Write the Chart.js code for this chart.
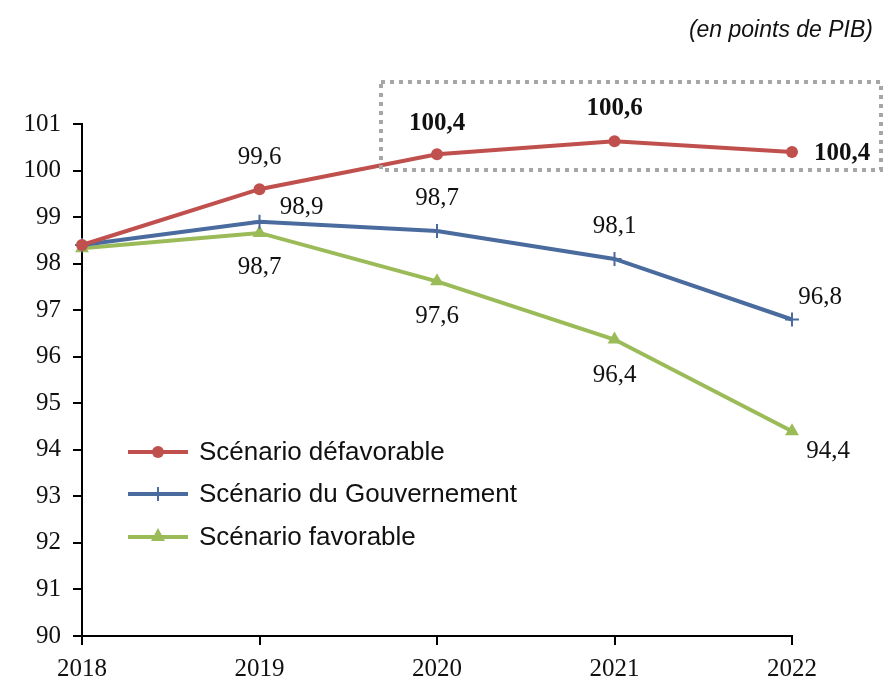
<!DOCTYPE html>
<html>
<head>
<meta charset="utf-8">
<script src="https://cdn.jsdelivr.net/npm/chart.js@4.4.0/dist/chart.umd.min.js"></script>
<style>
    body { margin: 0; background: #fff; }
    #wrap { position: relative; width: 883px; height: 682px; }
    #unit { position: absolute; right: 10px; top: 16px; font: italic 23px "Liberation Sans", Arial, sans-serif; color: #111; }
</style>
</head>
<body>
<div id="wrap">
    <canvas id="myChart" width="883" height="682"></canvas>
    <div id="unit">(en points de PIB)</div>
</div>
<script>
const years = ["2018", "2019", "2020", "2021", "2022"];
const defavorable = [98.4, 99.6, 100.35, 100.63, 100.4];
const gouvernement = [98.4, 98.9, 98.7, 98.1, 96.8];
const favorable = [98.33, 98.66, 97.62, 96.37, 94.4];
// texts shown next to the points (none for 2018)
const labelsDef = ["", "99,6", "100,4", "100,6", "100,4"];
const labelsGouv = ["", "98,9", "98,7", "98,1", "96,8"];
const labelsFav = ["", "98,7", "97,6", "96,4", "94,4"];

const red = "#C0504D";
const blue = "#4A6B9E";
const green = "#9BBB59";

// label offsets relative to the point (dx, dy), bold flag
const labelPos = [
    [null, [0, -32], [0, -31, true], [0, -33, true], [50, 2, true]],
    [null, [42, -14], [0, -33], [0, -33], [28, -22]],
    [null, [0, 35], [0, 35], [0, 36], [36, 20]]
];

const pointLabels = {
    id: "pointLabels",
    afterDatasetsDraw(chart) {
        const c = chart.ctx;
        c.save();
        c.textAlign = "center";
        c.textBaseline = "middle";
        c.fillStyle = "#111";
        chart.data.datasets.forEach(function (ds, i) {
            const meta = chart.getDatasetMeta(i);
            meta.data.forEach(function (pt, j) {
                const txt = ds.valueLabels[j];
                const pos = labelPos[i][j];
                if (!txt || !pos) return;
                c.font = (pos[2] ? "bold " : "") + "25px 'Liberation Serif', serif";
                c.fillText(txt, pt.x + pos[0], pt.y + pos[1]);
            });
        });
        c.restore();
    }
};

const boxAndLegend = {
    id: "boxAndLegend",
    afterDraw(chart) {
        const c = chart.ctx;
        c.save();
        // dotted frame round the unfavourable scenario
        c.strokeStyle = "#A6A6A6";
        c.lineWidth = 4;
        c.setLineDash([4, 5]);
        c.strokeRect(381, 82, 500, 88);
        c.setLineDash([]);
        // legend
        const rows = [452, 494, 537];
        chart.data.datasets.forEach(function (ds, i) {
            const y = rows[i];
            c.strokeStyle = ds.borderColor;
            c.lineWidth = 4;
            c.beginPath();
            c.moveTo(128, y);
            c.lineTo(188, y);
            c.stroke();
            c.fillStyle = ds.borderColor;
            if (ds.pointStyle === "circle") {
                c.beginPath();
                c.arc(158, y, 6, 0, Math.PI * 2);
                c.fill();
            } else if (ds.pointStyle === "cross") {
                c.lineWidth = 2;
                c.beginPath();
                c.moveTo(158, y - 7);
                c.lineTo(158, y + 7);
                c.stroke();
            } else {
                c.beginPath();
                c.moveTo(158, y - 9);
                c.lineTo(165, y + 4);
                c.lineTo(151, y + 4);
                c.closePath();
                c.fill();
            }
            c.fillStyle = "#111";
            c.font = "26px 'Liberation Sans', Arial, sans-serif";
            c.textAlign = "left";
            c.textBaseline = "middle";
            c.fillText(ds.label, 199, y + 1);
        });
        c.restore();
    }
};

const ctx = document.getElementById("myChart").getContext("2d");
const myChart = new Chart(ctx, {
    type: "line",
    data: {
        labels: years,
        datasets: [
            {
                label: "Scénario défavorable",
                data: defavorable,
                valueLabels: labelsDef,
                borderColor: red,
                backgroundColor: red,
                borderWidth: 4,
                pointStyle: "circle",
                pointRadius: 6,
                pointBorderWidth: 0,
            },
            {
                label: "Scénario du Gouvernement",
                data: gouvernement,
                valueLabels: labelsGouv,
                borderColor: blue,
                backgroundColor: blue,
                borderWidth: 4,
                pointStyle: "cross",
                pointRadius: 7,
                pointBorderWidth: 2,
            },
            {
                label: "Scénario favorable",
                data: favorable,
                valueLabels: labelsFav,
                borderColor: green,
                backgroundColor: green,
                borderWidth: 4,
                pointStyle: "triangle",
                pointRadius: 8,
                pointBorderWidth: 0,
            },
        ],
    },
    options: {
        responsive: false,
        animation: false,
        layout: { padding: { top: 124, right: 91, left: 0, bottom: 0 } },
        plugins: {
            legend: { display: false },
            tooltip: { enabled: false },
        },
        scales: {
            x: {
                offset: false,
                grid: { drawOnChartArea: false, drawTicks: true, tickLength: 9, color: "#000", lineWidth: 2 },
                border: { display: true, color: "#000", width: 2 },
                ticks: {
                    color: "#111",
                    font: { family: "'Liberation Serif', serif", size: 25 },
                    padding: 9,
                    maxRotation: 0,
                },
                afterFit(scale) { scale.height = 46; },
            },
            y: {
                min: 90,
                max: 101,
                grid: { drawOnChartArea: false, drawTicks: true, tickLength: 9, color: "#000", lineWidth: 2 },
                border: { display: true, color: "#000", width: 2 },
                ticks: {
                    stepSize: 1,
                    color: "#111",
                    font: { family: "'Liberation Serif', serif", size: 25 },
                    padding: 12,
                },
                afterFit(scale) { scale.width = 82; },
            },
        },
    },
    plugins: [pointLabels, boxAndLegend],
});
</script>
</body>
</html>
